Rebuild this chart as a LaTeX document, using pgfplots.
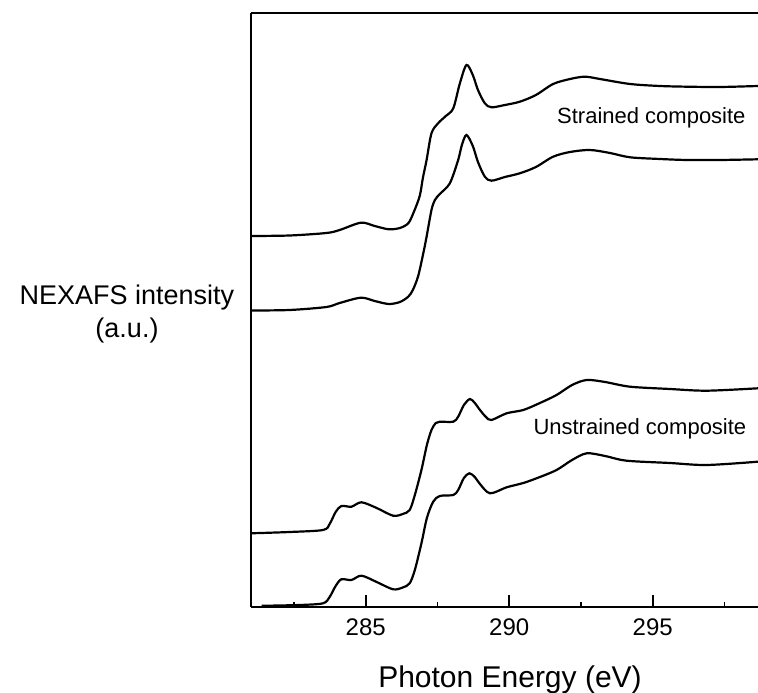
\documentclass[border=0pt]{standalone}
\usepackage{fontspec}
\setmainfont{Liberation Sans}
\usepackage{pgfplots}
\pgfplotsset{compat=1.18}
\begin{document}
\begin{tikzpicture}
\begin{axis}[
  scale only axis,
  width=507pt, height=594pt,
  xmin=281, xmax=298.67,
  ymin=0, ymax=594,
  axis x line=bottom, axis y line=left,
  axis line style={-, line width=1.6pt},
  tick align=inside,
  xtick={285,290,295},
  minor xtick={282.5,287.5,292.5,297.5},
  major tick length=12pt, minor tick length=5pt,
  every tick/.style={line width=1.6pt, black},
  ytick=\empty,
  /pgf/number format/assume math mode=true,
  /pgf/number format/1000 sep={},
  xticklabel style={font=\fontsize{24}{28}\selectfont, yshift=-8pt},
  clip=true,
]
\addplot[black, line width=2.2pt, smooth, tension=0.5] coordinates {
(281.00,371) (282.35,371.5) (283.63,374) (284.09,377) (284.83,384.3) (285.31,381)
(285.80,377.7) (286.19,379) (286.48,383.7) (286.66,394) (286.88,411)
(286.99,429) (287.12,447) (287.29,473.7) (287.52,483.7) (287.79,491) (288.05,498.7)
(288.28,523.7) (288.51,542) (288.73,532) (288.91,517) (289.15,503.7) (289.38,499.7)
(289.85,502) (290.37,505.3) (290.93,512) (291.53,523) (292.12,528) (292.64,530.3)
(293.16,528) (294.21,523) (295.25,521) (296.19,520.3) (297.35,520) (298.67,521)
};
\addplot[black, line width=2.2pt, smooth, tension=0.5] coordinates {
(281.00,296.5) (282.35,297) (283.63,300) (284.09,304) (284.83,309.3) (285.31,306)
(285.80,303) (286.19,305) (286.48,310.3) (286.64,317) (286.82,330.3) (286.98,350.3)
(287.12,370.3) (287.29,397) (287.41,407) (287.58,413) (287.93,423.7) (288.22,447)
(288.35,462) (288.51,472) (288.73,461) (288.91,445) (289.15,430.3) (289.38,426.3)
(289.85,430) (290.37,433.7) (290.93,440) (291.53,450.3) (292.12,455) (292.81,457)
(293.51,454) (294.21,449.7) (295.25,448) (296.19,447) (297.35,447) (298.67,447.7)
};
\addplot[black, line width=2.2pt, smooth, tension=0.5] coordinates {
(281.00,73.7) (282.35,75) (283.51,77) (283.74,83) (283.95,95) (284.15,101)
(284.50,100.3) (284.85,104.7) (285.38,99) (285.95,91.3) (286.29,93) (286.53,97)
(286.71,112) (286.94,137) (287.13,162) (287.29,177) (287.44,184) (287.58,185.3)
(288.05,185.3) (288.22,190.3) (288.42,202) (288.63,208) (288.80,204) (288.98,197)
(289.19,190) (289.38,187) (289.91,193.7) (290.49,197) (291.07,204) (291.65,212)
(292.19,222) (292.70,227) (293.34,225) (294.21,220.3) (295.60,218) (296.88,216.3)
(298.67,218.7)
};
\addplot[black, line width=2.2pt, smooth, tension=0.5] coordinates {
(281.37,1.2) (282.70,2) (283.51,3.7) (283.74,10) (283.95,21) (284.15,27.7)
(284.50,27) (284.85,31.3) (285.38,25) (285.95,17.7) (286.29,19.5) (286.53,23.7)
(286.71,37) (286.94,63.7) (287.13,89) (287.35,105.3) (287.58,111) (288.05,112)
(288.22,117) (288.42,129) (288.61,133.7) (288.80,130) (288.98,123) (289.33,113.7)
(289.91,119.7) (290.49,124) (291.07,130) (291.65,137) (292.19,147) (292.70,153.7)
(293.34,151) (294.09,146.3) (295.60,144) (296.88,142) (298.67,145.3)
};
\draw[line width=1.6pt] (rel axis cs:0,1) -- (rel axis cs:1,1);
\coordinate (sw) at (rel axis cs:0,0);
\end{axis}
\node[anchor=base west, inner sep=0pt, font=\fontsize{22}{26}\selectfont] at ([shift={(306pt,483pt)}]sw) {Strained composite};
\node[anchor=base west, inner sep=0pt, font=\fontsize{22}{26}\selectfont] at ([shift={(282.3pt,172pt)}]sw) {Unstrained composite};
\node[align=center, inner sep=0pt, font=\fontsize{27}{33}\selectfont] at ([shift={(-124pt,293pt)}]sw) {NEXAFS intensity\\(a.u.)};
\node[anchor=base, inner sep=0pt, font=\fontsize{30}{36}\selectfont] at ([shift={(259pt,-81pt)}]sw) {Photon Energy (eV)};
\pgfresetboundingbox
\path[use as bounding box] ([shift={(-251pt,-86pt)}]sw) rectangle ([shift={(507pt,607pt)}]sw);
\end{tikzpicture}
\end{document}
